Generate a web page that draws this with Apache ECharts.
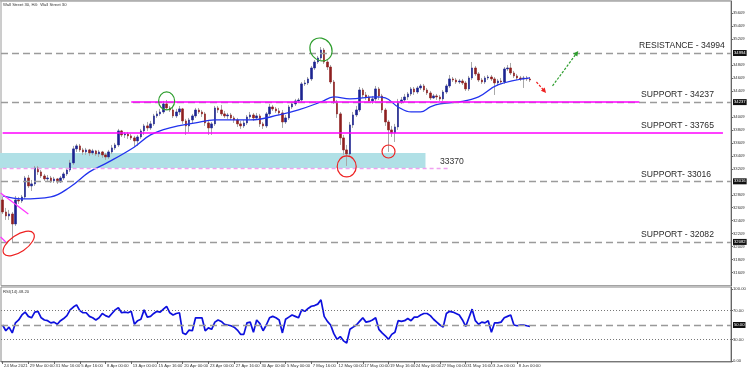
<!DOCTYPE html>
<html><head><meta charset="utf-8">
<script src="https://cdn.jsdelivr.net/npm/echarts@6/dist/echarts.min.js"></script>
<style>html,body{margin:0;padding:0;background:#fff}#c{width:750px;height:372px}</style>
</head><body><div id="c"></div>
<script>
// ---- data (Wall Street 30, H4) ----
const firstOpen = 32729;
const closes = [32544,32482,32513,32359,32729,32713,32775,33068,32945,32976,
33222,33161,33099,33053,33068,33022,33053,33007,33068,33130,
33191,33300,33516,33562,33500,33469,33500,33454,33485,33439,
33469,33423,33392,33469,33531,33577,33793,33731,33747,33716,
33685,33639,33700,33793,33870,33839,33901,34024,34055,34085,
34209,34147,34116,34024,34085,34132,33947,33870,33962,34024,
34116,34085,34055,33916,33839,33901,34147,34116,34055,34024,
34039,33993,33962,33901,33870,33916,34008,34039,33993,34024,
33901,33870,34055,34162,34132,34101,34070,33931,33993,34162,
34209,34255,34270,34517,34532,34594,34763,34855,34917,35040,
34855,34778,34547,34239,34055,33685,33500,33439,33885,34039,
34116,34424,34347,34316,34255,34286,34440,34332,34116,33931,
33808,33762,33854,34239,34270,34316,34363,34440,34393,34455,
34486,34424,34378,34301,34332,34316,34286,34393,34486,34594,
34578,34547,34563,34532,34440,34609,34763,34671,34578,34547,
34609,34624,34594,34532,34563,34547,34748,34763,34686,34640,
34609,34594,34609,34594,34578];
const highs = [32775,32606,32575,32544,32791,32775,32806,33099,33114,33037,
33253,33253,33191,33130,33114,33099,33084,33068,33099,33161,
33222,33346,33562,33593,33593,33531,33531,33516,33516,33500,
33500,33485,33454,33500,33577,33608,33824,33808,33777,33777,
33747,33716,33731,33824,33901,33931,33947,34055,34101,34132,
34255,34270,34178,34162,34132,34178,34147,33978,33993,34055,
34147,34147,34116,34085,33947,33931,34178,34178,34193,34101,
34070,34070,34024,33993,33947,33962,34039,34085,34070,34070,
34055,33931,34085,34209,34193,34162,34147,34116,34039,34193,
34239,34286,34301,34547,34578,34624,34794,34886,34948,35086,
35071,34886,34809,34578,34270,34085,33731,33577,33931,34085,
34178,34470,34455,34393,34347,34332,34486,34470,34363,34147,
33962,33870,33901,34286,34316,34363,34393,34470,34470,34486,
34517,34517,34455,34409,34363,34363,34347,34424,34517,34655,
34624,34609,34594,34594,34563,34640,34855,34794,34701,34609,
34640,34655,34655,34624,34594,34609,34778,34809,34840,34717,
34671,34640,34640,34640,34624];
const lows = [32513,32421,32421,32066,32328,32667,32683,32744,32914,32868,
32945,33114,33068,33022,33007,32991,32991,32976,32991,33037,
33099,33161,33269,33469,33469,33423,33423,33408,33423,33408,
33392,33377,33346,33361,33439,33500,33546,33700,33685,33670,
33654,33546,33562,33670,33731,33793,33808,33870,33993,34024,
34055,34116,34085,33993,33993,34039,33901,33731,33777,33901,
33993,34055,34008,33870,33731,33731,33870,34070,34024,33993,
33978,33962,33916,33854,33824,33839,33885,33978,33947,33962,
33854,33824,33839,34024,34101,34070,34039,33839,33901,33962,
34132,34178,34224,34239,34486,34501,34563,34732,34825,34886,
34825,34732,34517,34209,33993,33577,33423,33253,33408,33839,
34008,34085,34301,34270,34224,34209,34255,34270,34070,33870,
33469,33700,33623,33808,34209,34239,34270,34332,34347,34363,
34424,34393,34347,34270,34286,34270,34255,34255,34363,34455,
34547,34517,34517,34501,34409,34409,34578,34640,34547,34517,
34517,34578,34563,34347,34486,34517,34517,34717,34655,34609,
34578,34563,34455,34563,34547];
// moving average read at selected bars: [barIndex, value]
const maPoints = [[0,32791],[6,32744],[15,32775],[21,32929],[27,33161],[33,33315],[41,33546],[46,33731],
[52,33839],[60,33916],[66,33962],[77,33962],[86,34039],[92,34116],[99,34239],[103,34316],[108,34286],
[116,34316],[119,34301],[123,34162],[127,34085],[130,34085],[133,34162],[136,34209],[142,34239],
[148,34316],[154,34501],[164,34609]];
const rsi = [50,42,47,39,53,57,64,68,62,60, 68,69,60,57,56,53,54,51,56,59,
63,71,75,78,70,67,67,62,60,57, 60,66,63,61,66,71,74,67,68,67,
69,51,56,58,71,61,62,66,69,68, 72,76,67,64,66,67,39,37,43,42,
60,60,60,42,46,44,54,57,55,51, 50,49,47,43,37,37,53,54,40,57,
52,42,50,60,62,60,57,39,58,61, 64,62,60,71,69,73,76,77,79,85,
62,55,50,38,30,34,28,25,44,47, 50,55,60,54,55,57,60,44,39,35,
30,37,40,56,55,56,59,56,61,61, 64,66,66,63,58,54,50,47,66,69,
68,66,64,57,48,60,72,56,51,54, 53,56,40,53,53,54,60,62,64,50,
49,50,50,49,48.2];
const timeLabels = ["24 Mar 2021","29 Mar 00:00","31 Mar 16:00","5 Apr 16:00","8 Apr 00:00","13 Apr 00:00",
"15 Apr 16:00","20 Apr 00:00","23 Apr 00:00","27 Apr 16:00","30 Apr 00:00","5 May 00:00","7 May 16:00",
"12 May 00:00","17 May 00:00","19 May 16:00","24 May 00:00","27 May 00:00","31 May 16:00","3 Jun 00:00","8 Jun 00:00"];
const labelEvery = 8;
const totalSlots = 227;
const priceTicks = [31609,31809,32009,32209,32409,32609,32809,33209,33409,33609,33809,34009,34409,34609,34809,35209,35409,35609];
const rsiTicks = [0,30,70,100];
const dashedLevels = [34994,34237,33016,32082];
const levelTexts = ["RESISTANCE - 34994","SUPPORT - 34237","SUPPORT - 33765","SUPPORT- 33016","SUPPORT - 32082"];
const levelTextValues = [34994,34237,33765,33016,32082];
const zoneTop = 33454, zoneBottom = 33222, zoneLabel = "33370", zoneLabelValue = 33370;
const rsiLevels = {upper:70, mid:50, lower:30};

// ---- build ----
const opens = [firstOpen].concat(closes.slice(0, -1));
const wickData = closes.map((c, i) => [opens[i], c, lows[i], highs[i]]);
const bodyData = closes.map((c, i) => [opens[i], c, Math.min(opens[i], c), Math.max(opens[i], c)]);
const categories = Array.from({length: totalSlots}, (_, i) =>
  (i % labelEvery === 0 && i / labelEvery < timeLabels.length) ? timeLabels[i / labelEvery] : '');
const showLbl = (idx, val) => val !== '';
const FONT = '"Liberation Sans", Arial, sans-serif';

const chart = echarts.init(document.getElementById('c'), null, {renderer: 'canvas'});
chart.setOption({
  animation: false,
  backgroundColor: '#ffffff',
  grid: [
    {left: 1, width: 730, top: 1, height: 284.6, show: true, borderColor: '#9a9a9a', borderWidth: 1},
    {left: 1, width: 730, top: 287, height: 75, show: true, borderColor: '#8a8a8a', borderWidth: 1}
  ],
  xAxis: [
    {type: 'category', gridIndex: 0, data: categories, boundaryGap: true,
     axisLine: {show: false}, axisTick: {show: false}, axisLabel: {show: false}, splitLine: {show: false}},
    {type: 'category', gridIndex: 1, data: categories, boundaryGap: true,
     axisLine: {show: true, lineStyle: {color: '#777', width: 1}},
     axisTick: {show: true, interval: showLbl, alignWithLabel: true, length: 3, lineStyle: {color: '#666'}},
     axisLabel: {show: true, interval: showLbl, align: 'left', margin: 2, fontSize: 4.2, color: '#333',
                 fontFamily: FONT, padding: [0, 0, 0, 1.5]},
     splitLine: {show: false}}
  ],
  yAxis: [
    {type: 'value', gridIndex: 0, position: 'right', min: 31409, max: 35795, scale: true,
     axisLine: {show: true, lineStyle: {color: '#666'}},
     axisTick: {show: true, length: 2, customValues: priceTicks, lineStyle: {color: '#666'}},
     axisLabel: {show: true, customValues: priceTicks, fontSize: 4.2, color: '#333', margin: 2, fontFamily: FONT,
                 formatter: v => String(Math.round(v))},
     splitLine: {show: false}},
    {type: 'value', gridIndex: 1, position: 'right', min: -1.39, max: 102.8,
     axisLine: {show: true, lineStyle: {color: '#666'}},
     axisTick: {show: true, length: 2, customValues: rsiTicks, lineStyle: {color: '#666'}},
     axisLabel: {show: true, customValues: rsiTicks, fontSize: 4.2, color: '#333', margin: 2, fontFamily: FONT,
                 formatter: v => v.toFixed(2)},
     splitLine: {show: false}}
  ],
  series: [
    {type: 'candlestick', name: 'wicks', xAxisIndex: 0, yAxisIndex: 0, data: wickData, barWidth: 1,
     itemStyle: {color: '#a8a8a8', color0: '#a8a8a8', borderColor: '#a8a8a8', borderColor0: '#a8a8a8', borderWidth: 1},
     markLine: {
       silent: true, symbol: 'none', animation: false,
       data: [
         ...dashedLevels.map(v => ({yAxis: v,
           lineStyle: {color: '#9b9b9b', width: 1.4, type: [7, 4]},
           label: {show: true, position: 'end', formatter: String(v), distance: 2,
                   backgroundColor: '#111', color: '#fff', fontSize: 4.2, padding: [1, 1], fontFamily: FONT}})),
         [{coord: [40, 34237], lineStyle: {color: '#ff00ff', width: 1.5, type: 'solid'}, label: {show: false}},
          {coord: [198, 34237]}],
         [{coord: [0, 33765], lineStyle: {color: '#ff00ff', width: 1.5, type: 'solid'}, label: {show: false}},
          {coord: [224, 33765]}],
         [{coord: [0, zoneBottom], lineStyle: {color: '#f0a0f0', width: 1.3, type: [4, 3]}, label: {show: false}},
          {coord: [139, zoneBottom]}]
       ]
     }},
    {type: 'candlestick', name: 'bodies', xAxisIndex: 0, yAxisIndex: 0, data: bodyData, barWidth: 2,
     itemStyle: {color: '#1c2490', color0: '#8e1f1f', borderColor: '#1c2490', borderColor0: '#8e1f1f', borderWidth: 0.6}},
    {type: 'line', name: 'MA', xAxisIndex: 0, yAxisIndex: 0, data: maPoints, smooth: 0.4, symbol: 'none',
     lineStyle: {color: '#2233ee', width: 1.3}, z: 3},
    {type: 'line', name: 'RSI', xAxisIndex: 1, yAxisIndex: 1, data: rsi, symbol: 'none',
     lineStyle: {color: '#0d10de', width: 1.7},
     markLine: {
       silent: true, symbol: 'none', animation: false,
       data: [
         {yAxis: rsiLevels.upper, lineStyle: {color: '#777', width: 1, type: [1, 2]}, label: {show: false}},
         {yAxis: rsiLevels.lower, lineStyle: {color: '#777', width: 1, type: [1, 2]}, label: {show: false}},
         {yAxis: rsiLevels.mid, lineStyle: {color: '#999', width: 1.4, type: [7, 4]},
          label: {show: true, position: 'end', formatter: rsiLevels.mid.toFixed(2), distance: 2,
                  backgroundColor: '#111', color: '#fff', fontSize: 4.2, padding: [1, 1], fontFamily: FONT}}
       ]
     }}
  ]
});

// ---- annotations anchored to data coordinates ----
function px(bar, price) { return chart.convertToPixel({xAxisIndex: 0, yAxisIndex: 0}, [bar, price]); }
const band = 730 / totalSlots;
const g = [];
// cyan zone
{
  const a = px(0, zoneTop), b = px(131, zoneBottom);
  g.push({type: 'rect', z: 0, shape: {x: a[0] - band / 2 - 1, y: a[1], width: b[0] + band / 2 - (a[0] - band / 2 - 1), height: b[1] - a[1]},
          style: {fill: '#b0e0e6'}});
  const t = px(136, zoneLabelValue);
  g.push({type: 'text', z: 100, style: {text: zoneLabel, x: t[0], y: t[1] + 3, font: '8.6px ' + FONT, fill: '#333', verticalAlign: 'middle'}});
}
// level texts
levelTexts.forEach((txt, k) => {
  const p = px(0, levelTextValues[k]);
  g.push({type: 'text', z: 100, style: {text: txt, x: k === 0 ? 639 : 641, y: p[1] - 7, font: '8.6px ' + FONT,
          fill: '#2a2a2a', verticalAlign: 'middle'}});
});
// ellipses
const ellipses = [
  {bar: 51, price: 34255, rx: 8, ry: 9, rot: 0, color: '#2e9e2e'},
  {bar: 99, price: 35048, rx: 12, ry: 10.5, rot: -0.9, color: '#2e9e2e'},
  {bar: 107, price: 33245, rx: 9.5, ry: 10.5, rot: 0, color: '#ee2222'},
  {bar: 120, price: 33476, rx: 6.5, ry: 6.5, rot: 0, color: '#ee2222'},
  {bar: 5, price: 32058, rx: 18, ry: 8.5, rot: 0.6, color: '#ee2222'}
];
ellipses.forEach(e => {
  const c = px(e.bar, e.price);
  g.push({type: 'ellipse', z: 100, x: c[0], y: c[1], rotation: e.rot, shape: {cx: 0, cy: 0, rx: e.rx, ry: e.ry},
          style: {fill: 'none', stroke: e.color, lineWidth: 1.2}});
});
// magenta trend strokes at left
[[0, 32837, 8, 32513], [0, 32158, 1, 32081]].forEach(s => {
  const a = px(s[0], s[1]), b = px(s[2], s[3]);
  g.push({type: 'line', z: 100, shape: {x1: a[0] - 2, y1: a[1], x2: b[0], y2: b[1]}, style: {stroke: '#ff33ff', lineWidth: 1.2}});
});
// arrows
const arrows = [
  {from: [166, 34547], to: [169, 34378], color: '#ee2222'},
  {from: [171, 34486], to: [179, 35025], color: '#2e9e2e'}
];
arrows.forEach(ar => {
  const a = px(ar.from[0], ar.from[1]), b = px(ar.to[0], ar.to[1]);
  const dx = b[0] - a[0], dy = b[1] - a[1], L = Math.hypot(dx, dy), ux = dx / L, uy = dy / L;
  g.push({type: 'line', z: 100, shape: {x1: a[0], y1: a[1], x2: b[0] - ux * 3, y2: b[1] - uy * 3},
          style: {stroke: ar.color, lineWidth: 1.2, lineDash: [2.5, 1.5]}});
  g.push({type: 'polygon', z: 100, shape: {points: [[b[0], b[1]],
          [b[0] - ux * 5 - uy * 2.5, b[1] - uy * 5 + ux * 2.5], [b[0] - ux * 5 + uy * 2.5, b[1] - uy * 5 - ux * 2.5]]},
          style: {fill: ar.color}});
});
// panel captions
g.push({type: 'text', z: 100, style: {text: 'Wall Street 30, H4:  Wall Street 30', x: 3, y: 5, font: '4.2px ' + FONT, fill: '#333', verticalAlign: 'middle'}});
g.push({type: 'text', z: 100, style: {text: 'RSI(14) 48.20', x: 3, y: 291.5, font: '4.2px ' + FONT, fill: '#333', verticalAlign: 'middle'}});
// top border emphasis like the reference frame
g.push({type: 'line', z: 100, shape: {x1: 0, y1: 0.5, x2: 731, y2: 0.5}, style: {stroke: '#b0b0b0', lineWidth: 2}});
chart.setOption({graphic: g});
</script></body></html>
